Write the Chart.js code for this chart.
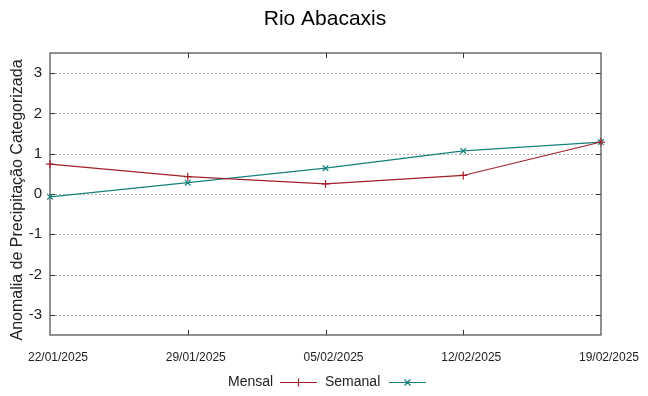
<!DOCTYPE html>
<html>
<head>
<meta charset="utf-8">
<script src="https://cdn.jsdelivr.net/npm/chart.js@4.4.1/dist/chart.umd.min.js"></script>
<style>
  html, body { margin: 0; padding: 0; background: #fff; }
  #grafico { display: block; }
</style>
</head>
<body>
<canvas id="grafico" width="648" height="396"></canvas>
<script>
/* ===== DADOS ===== */
const datas = ['22/01/2025', '29/01/2025', '05/02/2025', '12/02/2025', '19/02/2025'];
const mensal = [0.74, 0.43, 0.25, 0.46, 1.29];
const semanal = [-0.07, 0.28, 0.64, 1.07, 1.29];
const ticks_y = [-3, -2, -1, 0, 1, 2, 3];

const titulo = 'Rio Abacaxis';
const titulo_y = 'Anomalia de Precipitação Categorizada';

const COR_MENSAL = '#a3202a';
const COR_SEMANAL = '#16807c';
const FONTE = "'Liberation Sans', Arial, sans-serif";

/* ===== MOLDURA, GRADE E TICKS (estilo gnuplot) ===== */
const moldura_plugin = {
  id: 'moldura',
  beforeDatasetsDraw(chart) {
    const { ctx, chartArea: a, scales } = chart;
    ctx.save();
    // grade horizontal pontilhada
    ctx.strokeStyle = '#b0b0b0';
    ctx.lineWidth = 1;
    ctx.setLineDash([2, 2]);
    ticks_y.forEach(v => {
      const y = Math.round(scales.y.getPixelForValue(v)) + 0.5;
      ctx.beginPath();
      ctx.moveTo(a.left + 5, y);
      ctx.lineTo(a.right - 5, y);
      ctx.stroke();
    });
    ctx.setLineDash([]);
    // ticks para dentro
    ctx.strokeStyle = '#333';
    ticks_y.forEach(v => {
      const y = Math.round(scales.y.getPixelForValue(v)) + 0.5;
      ctx.beginPath();
      ctx.moveTo(a.left, y); ctx.lineTo(a.left + 5, y);
      ctx.moveTo(a.right, y); ctx.lineTo(a.right - 5, y);
      ctx.stroke();
    });
    for (let i = 1; i < datas.length - 1; i++) {
      const x = Math.round(scales.x.getPixelForValue(i)) + 0.5;
      ctx.beginPath();
      ctx.moveTo(x, a.bottom); ctx.lineTo(x, a.bottom - 5);
      ctx.moveTo(x, a.top); ctx.lineTo(x, a.top + 5);
      ctx.stroke();
    }
    // moldura
    ctx.strokeStyle = '#555';
    ctx.lineWidth = 1.3;
    ctx.strokeRect(a.left, a.top, a.right - a.left, a.bottom - a.top);
    ctx.restore();
  },
  afterDraw(chart) {
    const { ctx } = chart;
    ctx.save();
    // titulo
    ctx.fillStyle = '#000';
    ctx.font = '21px ' + FONTE;
    ctx.textAlign = 'center';
    ctx.textBaseline = 'middle';
    ctx.fillText(titulo, 325, 19);
    // titulo do eixo y
    ctx.save();
    ctx.translate(18, 200);
    ctx.rotate(-Math.PI / 2);
    ctx.fillStyle = '#222';
    ctx.font = '16px ' + FONTE;
    ctx.fillText(titulo_y, 0, 0);
    ctx.restore();
    // legenda: texto depois amostra
    ctx.font = '14px ' + FONTE;
    ctx.textAlign = 'left';
    const y = 382.5;
    const itens = [
      { texto: 'Mensal', x: 228, x1: 280, x2: 317, cor: COR_MENSAL, marca: 'mais' },
      { texto: 'Semanal', x: 325, x1: 389, x2: 426, cor: COR_SEMANAL, marca: 'xis' }
    ];
    itens.forEach(it => {
      ctx.fillStyle = '#222';
      ctx.fillText(it.texto, it.x, y);
      ctx.strokeStyle = it.cor;
      ctx.lineWidth = 1.2;
      ctx.beginPath();
      ctx.moveTo(it.x1, y); ctx.lineTo(it.x2, y);
      const cx = (it.x1 + it.x2) / 2;
      if (it.marca == 'mais') {
        ctx.moveTo(cx, y - 4); ctx.lineTo(cx, y + 4);
      } else {
        ctx.moveTo(cx - 3, y - 3); ctx.lineTo(cx + 3, y + 3);
        ctx.moveTo(cx - 3, y + 3); ctx.lineTo(cx + 3, y - 3);
      }
      ctx.stroke();
    });
    ctx.restore();
  }
};

/* ===== GRAFICO ===== */
const grafico_ctx = document.getElementById('grafico');

const chart_config = {
  type: 'line',
  data: {
    labels: datas,
    datasets: [
      {
        label: 'Mensal',
        data: mensal,
        borderColor: COR_MENSAL,
        backgroundColor: COR_MENSAL,
        borderWidth: 1.2,
        pointStyle: 'cross',
        pointRadius: 4,
        pointBorderWidth: 1.2,
        tension: 0
      },
      {
        label: 'Semanal',
        data: semanal,
        borderColor: COR_SEMANAL,
        backgroundColor: COR_SEMANAL,
        borderWidth: 1.2,
        pointStyle: 'crossRot',
        pointRadius: 4,
        pointBorderWidth: 1.2,
        tension: 0
      }
    ]
  },
  options: {
    responsive: false,
    animation: false,
    layout: { padding: { top: 53, right: 47, left: 0, bottom: 0 } },
    plugins: {
      legend: { display: false },
      title: { display: false },
      tooltip: { enabled: false }
    },
    scales: {
      x: {
        offset: false,
        grid: { display: false, drawTicks: false },
        border: { display: false },
        ticks: {
          color: '#222',
          font: { family: FONTE, size: 12 },
          padding: 15,
          labelOffset: 8,
          maxRotation: 0,
          autoSkip: false
        },
        afterFit: (s) => { s.height = 61; }
      },
      y: {
        min: -3.5,
        max: 3.5,
        grid: { display: false, drawTicks: false },
        border: { display: false },
        afterBuildTicks: (s) => { s.ticks = ticks_y.map(v => ({ value: v })); },
        ticks: {
          color: '#222',
          font: { family: FONTE, size: 15 },
          padding: 8
        },
        afterFit: (s) => { s.width = 50; }
      }
    }
  },
  plugins: [moldura_plugin]
};

const chart1 = new Chart(grafico_ctx, chart_config);
</script>
</body>
</html>
